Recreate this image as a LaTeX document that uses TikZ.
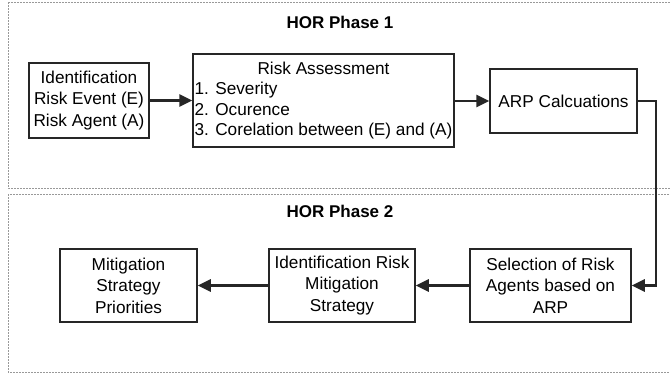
\documentclass[tikz,border=0pt]{standalone}
\usepackage{fontspec}
\setmainfont{Liberation Sans}
\usetikzlibrary{arrows.meta,calc}
\begin{document}
\begin{tikzpicture}[x=1pt,y=-1pt,
  box/.style={draw=black!85, line width=1.5pt, align=center, inner sep=1pt,
    font=\fontsize{17.2}{21.5}\selectfont},
  conn/.style={draw=black!85, line width=2.6pt, -{Triangle[length=13pt,width=12pt]}},
  phase/.style={draw=black!40, line width=0.6pt, dash pattern=on 2pt off 1pt},
  ptitle/.style={font=\fontsize{17}{19}\selectfont\bfseries}]
\useasboundingbox (0,0) rectangle (670,376);
\draw[phase] (8,2) rectangle (690,188);
\draw[phase] (8,194) rectangle (690,372);
\node[ptitle] (t1) at (340,22) {HOR Phase 1};
\node[ptitle] (t2) at (340,211) {HOR Phase 2};
\node[box, minimum width=120pt, minimum height=75pt] (id) at (89,100.5)
  {Identification\\Risk Event (E)\\Risk Agent (A)};
\node[box, minimum width=261pt, minimum height=93pt] (ra) at (323.5,100.5)
  {\begin{tabular}{@{}l@{}}\multicolumn{1}{@{}c@{}}{Risk Assessment}\\[-1pt]1. Severity\\[-1pt]2. Ocurence\\[-1pt]3. Corelation between (E) and (A)\end{tabular}};
\node[box, minimum width=147pt, minimum height=64pt] (arp) at (563.5,101) {ARP Calcuations};
\node[box, minimum width=161pt, minimum height=73pt] (sel) at (550.5,285.5)
  {Selection of Risk\\Agents based on\\ARP};
\node[box, minimum width=146pt, minimum height=73pt] (irm) at (342,285.5)
  {Identification Risk\\Mitigation\\Strategy};
\node[box, minimum width=137pt, minimum height=73pt] (mit) at (128.5,285.5)
  {Mitigation\\Strategy\\Priorities};
\coordinate (c1) at (656,101);
\coordinate (c2) at (656,285.5);
\draw[conn] (id.east) -- (id.east -| ra.west);
\draw[conn] (ra.east |- arp.west) -- (arp.west);
\draw[conn] (arp.east) -- (c1) -- (c2) -- (sel.east);
\draw[conn] (sel.west) -- (irm.east);
\draw[conn] (irm.west) -- (mit.east);
\end{tikzpicture}
\end{document}
